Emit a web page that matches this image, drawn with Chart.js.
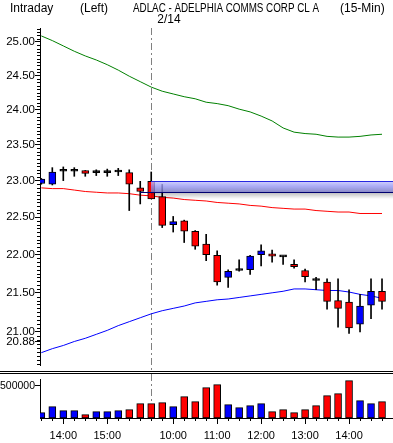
<!DOCTYPE html>
<html><head><meta charset="utf-8">
<script src="https://cdn.jsdelivr.net/npm/chart.js@4.4.1/dist/chart.umd.min.js"></script>
<style>
html,body{margin:0;padding:0;background:#fff;}
#wrap{width:393px;height:443px;position:relative;overflow:hidden;background:#fff;}
canvas{display:block;}
</style></head><body>
<div id="wrap">
<div style="position:absolute;left:0;top:0;width:393px;height:370px"><canvas id="c1" width="393" height="370"></canvas></div>
<div style="position:absolute;left:0;top:370px;width:393px;height:73px"><canvas id="c2" width="393" height="73"></canvas></div>
</div>
<script>
// ---------------- DATA ----------------
const times = ['13:30','13:45','14:00','14:15','14:30','14:45','15:00','15:15','15:30','15:45',
  '9:30','9:45','10:00','10:15','10:30','10:45','11:00','11:15','11:30','11:45',
  '12:00','12:15','12:30','12:45','13:00','13:15','13:30','13:45','14:00','14:15','14:30','14:45'];
const openP  = [22.96,22.95,23.13,23.13,23.14,23.11,23.11,23.12,23.11,22.90,22.99,22.78,22.40,22.45,22.31,22.14,21.99,21.70,21.79,21.80,22.00,22.01,21.97,21.87,21.79,21.66,21.64,21.40,21.38,21.10,21.34,21.52];
const highP  = [23.03,23.18,23.19,23.18,23.14,23.15,23.16,23.17,23.15,22.99,23.12,22.95,22.51,22.46,22.32,22.27,22.05,21.80,21.93,21.99,22.13,22.06,21.98,21.93,21.81,21.70,21.68,21.68,21.54,21.48,21.68,21.68];
const lowP   = [22.95,22.94,23.00,23.06,23.06,23.07,23.06,23.07,22.59,22.68,22.75,22.36,22.30,22.16,22.07,21.92,21.60,21.57,21.78,21.74,21.85,21.90,21.87,21.82,21.64,21.54,21.29,21.06,20.98,21.00,21.17,21.29];
const closeP = [23.02,23.12,23.13,23.13,23.10,23.11,23.11,23.12,22.95,22.85,22.75,22.39,22.44,22.31,22.11,22.00,21.64,21.78,21.79,21.98,22.05,21.98,21.97,21.84,21.71,21.66,21.39,21.30,21.05,21.33,21.52,21.39];
const volume = [83000,177000,115000,115000,52000,99000,99000,115000,130000,224000,224000,240000,177000,333000,255000,474000,521000,208000,161000,193000,224000,99000,130000,83000,130000,193000,349000,380000,583000,271000,224000,255000];
const upperLine = [25.09,25.02,24.94,24.86,24.79,24.73,24.66,24.58,24.49,24.41,24.33,24.27,24.23,24.19,24.16,24.11,24.09,24.06,24.01,23.97,23.91,23.84,23.74,23.68,23.66,23.65,23.62,23.61,23.61,23.62,23.64,23.65];
const middleLine = [22.90,22.89,22.89,22.87,22.85,22.84,22.83,22.83,22.82,22.80,22.79,22.77,22.76,22.74,22.73,22.72,22.70,22.69,22.68,22.66,22.65,22.63,22.62,22.61,22.61,22.59,22.58,22.57,22.57,22.55,22.55,22.55];
const lowerLine = [20.74,20.79,20.83,20.88,20.92,20.97,21.02,21.08,21.13,21.18,21.23,21.27,21.30,21.33,21.37,21.39,21.41,21.42,21.44,21.46,21.48,21.50,21.52,21.55,21.55,21.54,21.53,21.53,21.51,21.48,21.46,21.43];
const priceTicks = [20.88,21.00,21.50,22.00,22.50,23.00,23.50,24.00,24.50,25.00];
const volumeTicks = [500000];
const titleParts = ['Intraday', '(Left)', 'ADLAC - ADELPHIA COMMS CORP CL A', '(15-Min)'];
const dateLabel = '2/14';
const dayStartIndex = 10;
const zoneTop = 23.00, zoneBottom = 22.85;

// ---------------- STYLE ----------------
const UP = '#0000ff', DOWN = '#ff0000';
const FAM = "'Liberation Sans',Arial,sans-serif";
const priceTickFont = {family: FAM, size: 11.5};
const volTickFont = {family: FAM, size: 10.5};
const xTickFont = {family: FAM, size: 11};
const titleLayout = [{x: 10, w: 46}, {x: 80, w: 37}, {x: 133, w: 186}, {x: 340, w: 46}];
const X_MIN = -0.12, X_MAX = 32.0;

function bodyColor(i){
  if (closeP[i] > openP[i]) return UP;
  if (closeP[i] < openP[i]) return DOWN;
  return '#000';
}
function volColor(i){
  if (closeP[i] > openP[i]) return UP;
  if (closeP[i] < openP[i]) return DOWN;
  return (i === 0 || closeP[i] >= closeP[i-1]) ? UP : DOWN;
}
const isHourLabel = i => times[i] !== undefined && times[i].endsWith(':00');

function xScale(show){
  const cfg = {
    type: 'linear', min: X_MIN, max: X_MAX, offset: false, display: show,
    afterBuildTicks: s => { s.ticks = times.map((t, i) => ({value: i})); },
    ticks: {autoSkip: false, maxRotation: 0, minRotation: 0, padding: 5, color: '#000', font: xTickFont,
      callback: v => isHourLabel(v) ? times[v] : ''},
    grid: {display: true, drawOnChartArea: false, drawTicks: true, tickLength: 6, offset: false,
      tickColor: c => (c.tick && isHourLabel(c.tick.value)) ? '#000' : 'rgba(0,0,0,0)'},
    border: {display: true, color: '#000', width: 1}
  };
  if (show) cfg.afterFit = s => { s.height = 25; s.paddingLeft = 0; s.paddingRight = 0; };
  return cfg;
}

function minorTicks(chart, scaleId, values, len){
  const sc = chart.scales[scaleId]; const ctx = chart.ctx;
  ctx.save(); ctx.strokeStyle = '#000'; ctx.lineWidth = 1;
  values.forEach(v => {
    const p = Math.round(sc.getPixelForValue(v)) + 0.5;
    ctx.beginPath();
    if (sc.isHorizontal()) { ctx.moveTo(p, sc.top); ctx.lineTo(p, sc.top + len); }
    else { ctx.moveTo(sc.right, p); ctx.lineTo(sc.right - len, p); }
    ctx.stroke();
  });
  ctx.restore();
}
function dashedDay(chart, y0, y1){
  const ctx = chart.ctx; const x = Math.round(chart.scales.x.getPixelForValue(dayStartIndex)) + 0.5;
  ctx.save(); ctx.strokeStyle = '#808080'; ctx.lineWidth = 1; ctx.setLineDash([7,3,2,3]);
  ctx.beginPath(); ctx.moveTo(x, y0); ctx.lineTo(x, y1); ctx.stroke(); ctx.restore();
}

// ---------------- PRICE CHART ----------------
const priceMinor = [];
for (let k = 412; k <= 504; k++) { const v = k / 20; if (!priceTicks.some(t => Math.abs(t - v) < 0.001)) priceMinor.push(v); }

const pricePlugin = {
  id: 'priceDecor',
  beforeDatasetsDraw(chart){ dashedDay(chart, chart.chartArea.top, chart.height); },
  afterDatasetsDraw(chart){
    const ctx = chart.ctx, xs = chart.scales.x, ys = chart.scales.y, ca = chart.chartArea;
    const x0 = Math.round(xs.getPixelForValue(dayStartIndex)), x1 = ca.right;
    const yT = Math.round(ys.getPixelForValue(zoneTop)), yB = Math.round(ys.getPixelForValue(zoneBottom));
    ctx.save();
    ctx.beginPath(); ctx.rect(ca.left, ca.top, ca.right - ca.left, ca.bottom - ca.top); ctx.clip();
    const sg = ctx.createLinearGradient(0, yB, 0, yB + 7);
    sg.addColorStop(0, 'rgba(0,0,0,0.28)'); sg.addColorStop(1, 'rgba(0,0,0,0)');
    ctx.fillStyle = sg; ctx.fillRect(x0, yB, x1 - x0, 7);
    const g = ctx.createLinearGradient(0, yT, 0, yB);
    g.addColorStop(0, 'rgba(200,200,255,0.8)'); g.addColorStop(0.5, 'rgba(150,150,240,0.8)'); g.addColorStop(1, 'rgba(120,120,190,0.85)');
    ctx.fillStyle = g; ctx.fillRect(x0, yT, x1 - x0, yB - yT);
    ctx.lineWidth = 1;
    ctx.strokeStyle = '#2828e0'; ctx.beginPath(); ctx.moveTo(x0, yT + 0.5); ctx.lineTo(x1, yT + 0.5); ctx.stroke();
    ctx.strokeStyle = '#000070'; ctx.beginPath(); ctx.moveTo(x0 - 11, yB + 0.5); ctx.lineTo(x1, yB + 0.5); ctx.stroke();
    ctx.restore();
  },
  afterDraw(chart){
    minorTicks(chart, 'y', priceMinor, 3);
    const ctx = chart.ctx;
    ctx.save(); ctx.fillStyle = '#000'; ctx.font = "12px " + FAM;
    ctx.textBaseline = 'middle'; ctx.textAlign = 'left';
    titleParts.forEach((t, k) => ctx.fillText(t, titleLayout[k].x, 8.5, titleLayout[k].w));
    ctx.fillText(dateLabel, chart.scales.x.getPixelForValue(dayStartIndex) + 6, 20);
    ctx.restore();
  }
};

const idx = times.map((t, i) => i);
new Chart(document.getElementById('c1'), {
  type: 'bar',
  data: {
    datasets: [
      {label: 'body', data: idx.map(i => ({x: i, y: [Math.min(openP[i], closeP[i]), Math.max(openP[i], closeP[i])]})),
        backgroundColor: idx.map(bodyColor), borderColor: '#000', borderWidth: 1, borderSkipped: false,
        barThickness: 7, minBarLength: 2, grouped: false, order: 1},
      {label: 'wick', data: idx.map(i => ({x: i, y: [lowP[i], highP[i]]})),
        backgroundColor: '#000', borderWidth: 0, barThickness: 1, grouped: false, order: 2},
      {type: 'line', label: 'upper', data: idx.map(i => ({x: i, y: upperLine[i]})), borderColor: '#008000', borderWidth: 1, pointRadius: 0, tension: 0, order: 3},
      {type: 'line', label: 'middle', data: idx.map(i => ({x: i, y: middleLine[i]})), borderColor: '#ff0000', borderWidth: 1, pointRadius: 0, tension: 0, order: 3},
      {type: 'line', label: 'lower', data: idx.map(i => ({x: i, y: lowerLine[i]})), borderColor: '#0000ff', borderWidth: 1, pointRadius: 0, tension: 0, order: 3}
    ]
  },
  options: {
    responsive: false, animation: false, devicePixelRatio: 1,
    layout: {padding: {left: 0, right: 0, top: 28, bottom: 5}},
    plugins: {legend: {display: false}, tooltip: {enabled: false}, title: {display: false}},
    scales: {
      x: xScale(false),
      y: {
        type: 'logarithmic', min: 20.587, max: 25.21, position: 'left',
        afterBuildTicks: s => { s.ticks = priceTicks.map(v => ({value: v})); },
        afterFit: s => { s.width = 40; s.paddingTop = 0; s.paddingBottom = 0; },
        ticks: {autoSkip: false, padding: 0, color: '#000', font: priceTickFont, callback: v => Number(v).toFixed(2)},
        grid: {display: true, drawOnChartArea: false, drawTicks: true, tickLength: 5, tickColor: '#000'},
        border: {display: true, color: '#000', width: 1}
      }
    }
  },
  plugins: [pricePlugin]
});

// ---------------- VOLUME CHART ----------------
const volPlugin = {
  id: 'volDecor',
  beforeDraw(chart){
    const ctx = chart.ctx;
    ctx.save(); ctx.strokeStyle = '#000'; ctx.lineWidth = 1;
    [1.5, 3.5].forEach(y => { ctx.beginPath(); ctx.moveTo(0, y); ctx.lineTo(chart.width, y); ctx.stroke(); });
    ctx.restore();
  },
  beforeDatasetsDraw(chart){ dashedDay(chart, 4, chart.chartArea.bottom); },
  afterDraw(chart){ minorTicks(chart, 'x', idx.filter(i => !isHourLabel(i)), 3); }
};

new Chart(document.getElementById('c2'), {
  type: 'bar',
  data: {
    datasets: [
      {label: 'volume', data: idx.map(i => ({x: i, y: volume[i]})),
        backgroundColor: idx.map(volColor), borderColor: '#000', borderWidth: 1, borderSkipped: false,
        barThickness: 7, grouped: false}
    ]
  },
  options: {
    responsive: false, animation: false, devicePixelRatio: 1,
    layout: {padding: {left: 0, right: 0, top: 9, bottom: 0}},
    plugins: {legend: {display: false}, tooltip: {enabled: false}, title: {display: false}},
    scales: {
      x: xScale(true),
      y: {
        type: 'linear', min: 0, max: 609000, position: 'left',
        afterBuildTicks: s => { s.ticks = volumeTicks.map(v => ({value: v})); },
        afterFit: s => { s.width = 40; s.paddingTop = 0; s.paddingBottom = 0; },
        ticks: {autoSkip: false, padding: 0, color: '#000', font: volTickFont, callback: v => String(v)},
        grid: {display: true, drawOnChartArea: false, drawTicks: true, tickLength: 5, tickColor: '#000'},
        border: {display: true, color: '#000', width: 1}
      }
    }
  },
  plugins: [volPlugin]
});
</script>
</body></html>
